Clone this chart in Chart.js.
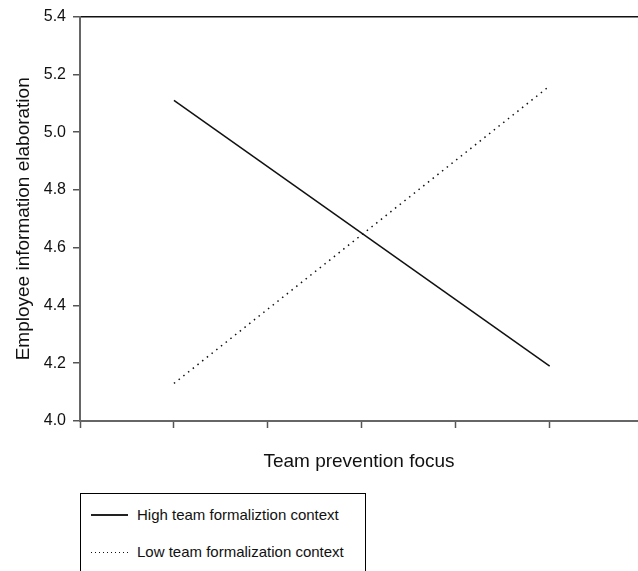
<!DOCTYPE html>
<html>
<head>
<meta charset="utf-8">
<script src="https://cdn.jsdelivr.net/npm/chart.js@4"></script>
<style>
    html, body { margin: 0; padding: 0; background: #fff; overflow: hidden; }
    body { width: 638px; height: 571px; position: relative; font-family: "Liberation Sans", Arial, sans-serif; }
    #chartBox { position: absolute; left: 0; top: 0; width: 638px; height: 480px; }
    #legend { position: absolute; left: 80px; top: 493px; width: 286px; height: 100px; border: 1px solid #000; box-sizing: border-box; }
    .item { position: absolute; left: 10px; height: 18px; font-size: 15px; color: #111; line-height: 18px; white-space: nowrap; }
    .sample { display: inline-block; width: 37px; height: 1px; vertical-align: middle; margin-right: 9px; position: relative; top: -1px; }
    .solid { background: #222; height: 1.5px; }
    .dotted { background: repeating-linear-gradient(to right, #111 0, #111 1px, transparent 1px, transparent 4px); }
</style>
</head>
<body>
<div id="chartBox"><canvas id="chartLine" width="638" height="480"></canvas></div>
<div id="legend"></div>
<script>
// values
const xValues = [1, 5];
const highValues = [5.11, 4.19];
const lowValues = [4.13, 5.16];
const seriesNames = ['High team formaliztion context', 'Low team formalization context'];
const yTicks = [4.0, 4.2, 4.4, 4.6, 4.8, 5.0, 5.2, 5.4];
const xTicks = [0, 1, 2, 3, 4, 5];

const font = "'Liberation Sans', Arial, sans-serif";
const clear = 'rgba(0,0,0,0)';

const data = {
    datasets: [
        {
            label: seriesNames[0],
            data: xValues.map((x, i) => ({ x: x, y: highValues[i] })),
            borderColor: '#111',
            borderWidth: 1.5,
        },
        {
            label: seriesNames[1],
            data: xValues.map((x, i) => ({ x: x, y: lowValues[i] })),
            borderColor: '#111',
            borderWidth: 1.5,
            borderDash: [1.5, 4.5],
        }
    ]
};

const configLineChart = {
    type: 'line',
    data,
    options: {
        responsive: false,
        animation: false,
        events: [],
        elements: { point: { radius: 0 }, line: { tension: 0 } },
        layout: { padding: { top: 14, right: 0, bottom: 6.6, left: 0 } },
        plugins: { legend: { display: false }, tooltip: { enabled: false } },
        scales: {
            x: {
                type: 'linear',
                min: 0,
                max: 5.94,
                afterBuildTicks: axis => { axis.ticks = xTicks.map(v => ({ value: v })); },
                ticks: { display: false },
                grid: {
                    drawOnChartArea: false,
                    drawTicks: true,
                    tickLength: 7,
                    tickColor: '#555',
                    tickWidth: 1.5
                },
                border: { color: '#666', width: 2 },
                title: {
                    display: true,
                    text: 'Team prevention focus',
                    color: '#111',
                    font: { family: font, size: 19 },
                    padding: { top: 22.6, bottom: 0 }
                }
            },
            y: {
                min: 4.0,
                max: 5.4,
                afterBuildTicks: axis => { axis.ticks = yTicks.map(v => ({ value: v })); },
                afterFit: axis => { axis.width = 80; },
                ticks: {
                    color: '#111',
                    padding: 7,
                    font: { family: font, size: 16 },
                    callback: v => v.toFixed(1)
                },
                grid: {
                    // only the top gridline is drawn, as the frame's top edge
                    color: ctx => (ctx.tick && ctx.tick.value === 5.4) ? '#111' : clear,
                    lineWidth: 1.5,
                    tickColor: '#555',
                    tickLength: 7,
                    tickWidth: 1.5
                },
                border: { color: '#666', width: 2 },
                title: {
                    display: true,
                    text: 'Employee information elaboration',
                    color: '#111',
                    font: { family: font, size: 19 },
                    padding: { top: 12, bottom: 0 }
                }
            }
        }
    }
};

var chartLine = new Chart(document.getElementById('chartLine'), configLineChart);

// legend box under the chart
const legend = document.getElementById('legend');
const styles = ['solid', 'dotted'];
const tops = [12, 49];
seriesNames.forEach((name, i) => {
    const item = document.createElement('div');
    item.className = 'item';
    item.style.top = tops[i] + 'px';
    item.innerHTML = '<span class="sample ' + styles[i] + '"></span>' + name;
    legend.appendChild(item);
});
</script>
</body>
</html>
